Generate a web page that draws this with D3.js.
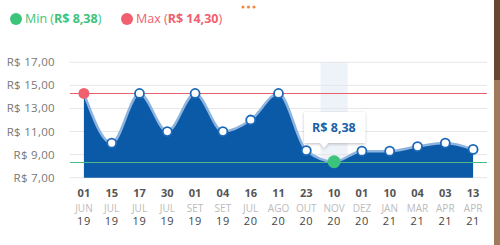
<!DOCTYPE html>
<html>
<head>
<meta charset="utf-8">
<script src="https://cdn.jsdelivr.net/npm/d3@7"></script>
<style>
  body { margin: 0; background: #fff; }
  svg { display: block; font-family: 'Open Sans', sans-serif; }
</style>
</head>
<body>
<div id="chart"></div>
<script>
var days   = ['01','15','17','30','01','04','16','11','23','10','01','10','04','03','13'];
var months = ['JUN','JUL','JUL','JUL','SET','SET','JUL','AGO','OUT','NOV','DEZ','JAN','MAR','APR','APR'];
var years  = ['19','19','19','19','19','19','20','20','20','20','20','21','21','21','21'];
var prices = [14.30, 10.0, 14.30, 11.0, 14.30, 11.0, 12.0, 14.30, 9.35, 8.38, 9.3, 9.3, 9.7, 10.0, 9.45];
var yTicks = [7, 9, 11, 13, 15, 17];

var W = 500, H = 245;
var margin = {top: 62, right: 13, bottom: 67, left: 70};

var GREEN = '#3cc47c', RED = '#f0606e', BLUE = '#0b5aa8';
var fmt = v => 'R$ ' + v.toFixed(2).replace('.', ',');

var data = prices.map((p, i) => ({i: i, p: p}));
var minIdx = prices.indexOf(d3.min(prices));
var maxIdx = prices.indexOf(d3.max(prices));

var svg = d3.select('#chart').append('svg')
    .attr('width', W)
    .attr('height', H);

var x = d3.scalePoint()
    .domain(d3.range(prices.length))
    .range([margin.left, W - margin.right])
    .padding(0.5);

var y = d3.scaleLinear()
    .domain([7, 17])
    .range([177.7, 62.3]);

// shadow filter for tooltip
var defs = svg.append('defs');
var f = defs.append('filter').attr('id', 'sh').attr('x', '-20%').attr('y', '-30%').attr('width', '140%').attr('height', '170%');
f.append('feDropShadow').attr('dx', 0).attr('dy', 1).attr('stdDeviation', 1.5).attr('flood-color', '#000').attr('flood-opacity', 0.25);

// card edge on the right
svg.append('rect').attr('x', 493).attr('y', 0).attr('width', 7).attr('height', H).attr('fill', '#a07a5c');
svg.append('rect').attr('x', 493).attr('y', 0).attr('width', 7).attr('height', 80).attr('fill', '#6a4632');
svg.append('rect').attr('x', 0).attr('y', 0).attr('width', 494).attr('height', H).attr('fill', '#fff');

// menu dots
svg.selectAll('.dot3').data([0, 1, 2]).enter().append('circle')
    .attr('cx', d => 243 + d * 5.5)
    .attr('cy', 7)
    .attr('r', 1.6)
    .attr('fill', '#f08a40');

// legend
var leg = [
  {label: 'Min', v: prices[minIdx], c: GREEN, x: 16},
  {label: 'Max', v: prices[maxIdx], c: RED, x: 127}
];
var lg = svg.selectAll('.leg').data(leg).enter().append('g')
    .attr('transform', d => 'translate(' + d.x + ',19)');
lg.append('circle').attr('r', 6).attr('fill', d => d.c);
var lt = lg.append('text')
    .attr('x', 9).attr('dy', '0.35em')
    .attr('font-size', 12.5)
    .attr('fill', d => d.c);
lt.append('tspan').text(d => d.label + ' (');
lt.append('tspan').attr('font-weight', 'bold').text(d => fmt(d.v));
lt.append('tspan').text(')');

// highlight column
svg.append('rect')
    .attr('x', x(minIdx) - 13.5)
    .attr('y', y(17))
    .attr('width', 27)
    .attr('height', y(7) - y(17))
    .attr('fill', '#eef2f9');

// grid
svg.append('g').selectAll('line').data(yTicks).enter().append('line')
    .attr('x1', margin.left).attr('x2', W - margin.right)
    .attr('y1', d => y(d)).attr('y2', d => y(d))
    .attr('stroke', '#e6e6e6').attr('stroke-width', 1);

svg.append('g').selectAll('text').data(yTicks).enter().append('text')
    .attr('x', 55).attr('y', d => y(d)).attr('dy', '0.35em')
    .attr('text-anchor', 'end')
    .attr('font-size', 11.5)
    .attr('letter-spacing', 0.3)
    .attr('fill', '#777')
    .text(d => fmt(d));

// area
var curve = d3.curveMonotoneX;
var area = d3.area()
    .x(d => x(d.i)).y0(y(7)).y1(d => y(d.p))
    .curve(curve);
var line = d3.line()
    .x(d => x(d.i)).y(d => y(d.p))
    .curve(curve);

svg.append('path').datum(data)
    .attr('d', area)
    .attr('fill', BLUE);
svg.append('path').datum(data)
    .attr('d', line)
    .attr('fill', 'none')
    .attr('stroke', '#8db4df')
    .attr('stroke-width', 2.5);

// min / max reference lines
svg.append('line')
    .attr('x1', margin.left).attr('x2', W - margin.right)
    .attr('y1', Math.round(y(prices[maxIdx])) + 0.5).attr('y2', Math.round(y(prices[maxIdx])) + 0.5)
    .attr('stroke', '#e8606b').attr('stroke-width', 1);
svg.append('line')
    .attr('x1', margin.left).attr('x2', W - margin.right)
    .attr('y1', Math.round(y(prices[minIdx])) + 0.5).attr('y2', Math.round(y(prices[minIdx])) + 0.5)
    .attr('stroke', '#4cba84').attr('stroke-width', 1);

// points
svg.append('g').selectAll('circle').data(data).enter().append('circle')
    .attr('cx', d => x(d.i)).attr('cy', d => y(d.p))
    .attr('r', d => d.i === minIdx ? 6.5 : (d.i === 0 ? 5.5 : 4.5))
    .attr('fill', d => d.i === minIdx ? GREEN : (d.i === 0 ? RED : '#fff'))
    .attr('stroke', d => (d.i === minIdx || d.i === 0) ? 'none' : '#1c68b8')
    .attr('stroke-width', 1.8);

// x labels
var xl = svg.append('g').selectAll('g').data(data).enter().append('g')
    .attr('transform', d => 'translate(' + x(d.i) + ',0)')
    .attr('text-anchor', 'middle');
xl.append('text').attr('y', 197).attr('font-size', 11).attr('font-weight', 'bold').attr('fill', '#555').text(d => days[d.i]);
xl.append('text').attr('y', 211.5).attr('font-size', 10).attr('fill', '#bbb').text(d => months[d.i]);
xl.append('text').attr('y', 225).attr('font-size', 11).attr('letter-spacing', 0.6).attr('fill', '#444').text(d => years[d.i]);

// tooltip
var tx = x(minIdx), ty = y(prices[minIdx]);
var tip = svg.append('g');
var bx = tx - 30, by = 112, bw = 61, bh = 31;
tip.append('path')
    .attr('d', 'M' + bx + ',' + by + 'h' + bw + 'v' + bh + 'H' + (tx - 6) + 'l-4,5l-4,-5H' + bx + 'Z')
    .attr('fill', '#fff')
    .attr('filter', 'url(#sh)');
tip.append('text')
    .attr('x', bx + 8).attr('y', by + bh / 2).attr('dy', '0.35em')
    .attr('font-size', 12.5).attr('font-weight', 'bold')
    .attr('fill', '#1a5fa8')
    .text(fmt(prices[minIdx]));
</script>
</body>
</html>
